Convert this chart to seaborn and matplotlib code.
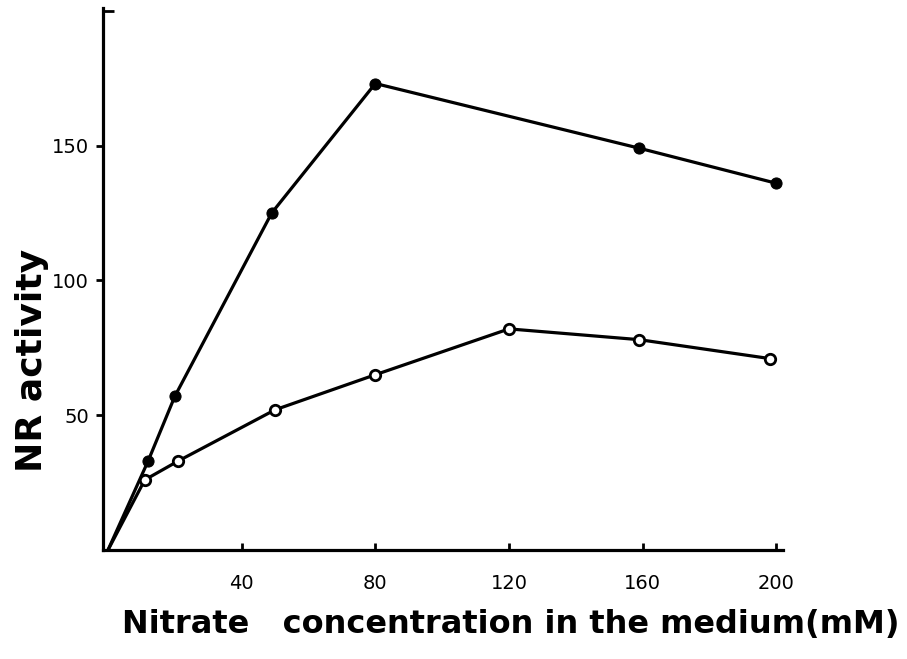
import numpy as np
import pandas as pd
import matplotlib
matplotlib.use("Agg")
import matplotlib.pyplot as plt
import seaborn as sns

# data
conc_filled = [0, 12, 20, 49, 80, 159, 200]
nr_filled = [0, 33, 57, 125, 173, 149, 136]

conc_open = [0, 11, 21, 50, 80, 120, 159, 198]
nr_open = [0, 26, 33, 52, 65, 82, 78, 71]

xticks = [40, 80, 120, 160, 200]
yticks = [50, 100, 150]

sns.set_style("ticks")
plt.rcParams['font.family'] = ['DejaVu Sans']
plt.rcParams['text.color'] = 'black'
plt.rcParams['axes.labelcolor'] = 'black'
plt.rcParams['xtick.color'] = 'black'
plt.rcParams['ytick.color'] = 'black'
plt.rcParams['axes.edgecolor'] = 'black'

df_filled = pd.DataFrame({"conc": conc_filled, "nr": nr_filled})
df_open = pd.DataFrame({"conc": conc_open, "nr": nr_open})

fig = plt.figure(figsize=(9.07, 6.59), dpi=100)
ax = fig.add_axes([103 / 907, 109 / 659, 680 / 907, 542 / 659])

sns.lineplot(data=df_filled, x="conc", y="nr", ax=ax, color="black",
             linewidth=2.3, marker="o", markersize=8,
             markerfacecolor="black", markeredgecolor="black",
             markevery=slice(1, None), sort=False)
sns.lineplot(data=df_open, x="conc", y="nr", ax=ax, color="black",
             linewidth=2.3, marker="o", markersize=7.5,
             markerfacecolor="white", markeredgecolor="black",
             markeredgewidth=2, markevery=slice(1, None), sort=False)

ax.set_xlim(-1.5, 202)
ax.set_ylim(0, 201)
ax.set_xticks(xticks)
ax.set_yticks(yticks)
ax.set_yticks([200], minor=True)
ax.tick_params(axis="x", direction="in", length=5, width=2, labelsize=14, pad=17)
ax.tick_params(axis="y", which="major", direction="out", length=5, width=2,
               labelsize=14, pad=5)
ax.tick_params(axis="y", which="minor", direction="in", length=8, width=2)

for s in ["top", "right"]:
    ax.spines[s].set_visible(False)
for s in ["left", "bottom"]:
    ax.spines[s].set_linewidth(2.3)

ax.set_xlabel("Nitrate   concentration in the medium(mM)", fontsize=23,
              fontweight="bold", labelpad=12, x=0.6)
ax.set_ylabel("NR activity", fontsize=26, fontweight="bold", labelpad=2, y=0.35)

fig.savefig("out.png", dpi=100)
